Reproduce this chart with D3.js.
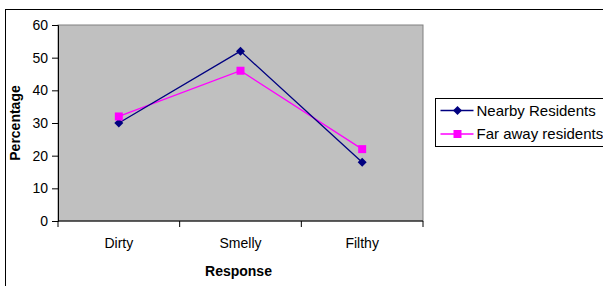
<!DOCTYPE html>
<html>
<head>
<meta charset="utf-8">
<script src="https://cdn.jsdelivr.net/npm/d3@7"></script>
<style>
  body { margin: 0; background: #fff; }
  svg text { font-family: "Liberation Sans", Arial, sans-serif; }
</style>
</head>
<body>
<div id="chart"></div>
<script>
// data
var categories = ["Dirty", "Smelly", "Filthy"];
var nearbyValues = [30, 52, 18];
var farValues = [32, 46, 22];
var yTicks = [0, 10, 20, 30, 40, 50, 60];
var seriesNames = ["Nearby Residents", "Far away residents"];

var svgWidth = 603;
var svgHeight = 286;

var margin = { top: 25, right: 180, bottom: 65, left: 58 };
var width = 423 - margin.left;
var height = 221 - margin.top;

var svg = d3.select("#chart")
    .append("svg")
    .attr("width", svgWidth)
    .attr("height", svgHeight);

// outer chart border (right and bottom fall outside the window)
svg.append("rect")
    .attr("x", 5.5).attr("y", 9.5)
    .attr("width", 620).attr("height", 300)
    .attr("fill", "#fff")
    .attr("stroke", "#000");

var chartGroup = svg.append("g")
    .attr("transform", `translate(${margin.left}, ${margin.top})`);

var xBand = d3.scaleBand().domain(categories).range([0, width]);
var yLinearScale = d3.scaleLinear().domain([0, 60]).range([height, 0]);

// plot area
chartGroup.append("rect")
    .attr("width", width)
    .attr("height", height)
    .attr("fill", "#c0c0c0")
    .attr("stroke", "#808080");

// y axis
var leftAxis = d3.axisLeft(yLinearScale).tickValues(yTicks).tickSize(6).tickPadding(4);
var yAxis = chartGroup.append("g").call(leftAxis);
yAxis.select(".domain").attr("stroke", "#000");
yAxis.selectAll("text").attr("font-size", 14).attr("fill", "#000");

// x axis: ticks at category boundaries
var bottomAxisG = chartGroup.append("g").attr("transform", `translate(0, ${height})`);
bottomAxisG.append("line")
    .attr("x1", 0).attr("x2", width)
    .attr("stroke", "#000");
var boundaries = d3.range(categories.length + 1).map(i => i * xBand.step());
bottomAxisG.selectAll("line.tick")
    .data(boundaries)
    .enter().append("line")
    .attr("class", "tick")
    .attr("x1", d => d).attr("x2", d => d)
    .attr("y1", 0).attr("y2", 6)
    .attr("stroke", "#000");
bottomAxisG.selectAll("text.cat")
    .data(categories)
    .enter().append("text")
    .attr("class", "cat")
    .attr("x", d => xBand(d) + xBand.bandwidth() / 2)
    .attr("y", 27)
    .attr("text-anchor", "middle")
    .attr("font-size", 14)
    .text(d => d);

// axis titles
chartGroup.append("text")
    .attr("x", width / 2 - 2)
    .attr("y", height + 55)
    .attr("text-anchor", "middle")
    .attr("font-size", 14)
    .attr("font-weight", "bold")
    .text("Response");

chartGroup.append("text")
    .attr("transform", "rotate(-90)")
    .attr("x", -(height / 2))
    .attr("y", -38)
    .attr("text-anchor", "middle")
    .attr("font-size", 14)
    .attr("font-weight", "bold")
    .text("Percentage");

var cx = d => xBand(d) + xBand.bandwidth() / 2;

// square diamond like the excel marker
var diamondPath = "M0,-4.5L4.5,0L0,4.5L-4.5,0Z";
var squarePath = "M-4,-4H4V4H-4Z";

var series = [
  { name: seriesNames[0], values: nearbyValues, color: "#000080", marker: diamondPath },
  { name: seriesNames[1], values: farValues, color: "#ff00ff", marker: squarePath }
];

var line = d3.line()
    .x((d, i) => cx(categories[i]))
    .y(d => yLinearScale(d));

series.slice().reverse().forEach(function(s) {
  chartGroup.append("path")
      .datum(s.values)
      .attr("d", line)
      .attr("fill", "none")
      .attr("stroke", s.color)
      .attr("stroke-width", 1.3);
});
series.forEach(function(s) {
  chartGroup.selectAll(null)
      .data(s.values)
      .enter().append("path")
      .attr("d", s.marker)
      .attr("transform", (d, i) => `translate(${cx(categories[i])}, ${yLinearScale(d)})`)
      .attr("fill", s.color);
});

// legend
var legend = svg.append("g").attr("transform", "translate(435.5, 98.5)");
legend.append("rect")
    .attr("width", 200).attr("height", 48)
    .attr("fill", "#fff")
    .attr("stroke", "#000");
series.forEach(function(s, i) {
  var ly = 12 + i * 23.5;
  legend.append("line")
      .attr("x1", 5).attr("x2", 38)
      .attr("y1", ly).attr("y2", ly)
      .attr("stroke", s.color)
      .attr("stroke-width", 1.3);
  legend.append("path")
      .attr("d", s.marker)
      .attr("transform", `translate(22, ${ly})`)
      .attr("fill", s.color);
  legend.append("text")
      .attr("x", 41)
      .attr("y", ly)
      .attr("dy", "0.35em")
      .attr("font-size", 15)
      .text(s.name);
});
</script>
</body>
</html>
